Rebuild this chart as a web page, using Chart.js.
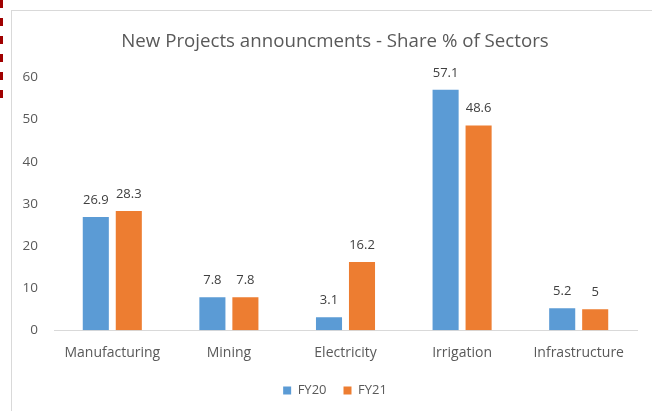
<!DOCTYPE html>
<html>
<head>
<meta charset="utf-8">
<script src="https://cdn.jsdelivr.net/npm/chart.js@4"></script>
<style>
    html, body { margin: 0; padding: 0; background: #fff; }
    #wrap { position: relative; width: 652px; height: 411px; overflow: hidden; }
    #frame {
        position: absolute; left: 11px; top: 10px; width: 660px; height: 420px;
        border: 1px solid #d9d9d9; box-sizing: border-box;
    }
    #dash {
        position: absolute; left: 0; top: 0; width: 3px; height: 98px;
        background: repeating-linear-gradient(to bottom, #a00000 0 8px, transparent 8px 18px);
    }
    canvas { position: absolute; left: 0; top: 0; }
</style>
</head>
<body>
<div id="wrap">
    <div id="frame"></div>
    <div id="dash"></div>
    <canvas id="chart" width="652" height="411"></canvas>
</div>
<script>
const sectors = ["Manufacturing", "Mining", "Electricity", "Irrigation", "Infrastructure"];
const fy20 = [26.9, 7.8, 3.1, 57.1, 5.2];
const fy21 = [28.3, 7.8, 16.2, 48.6, 5];
const yTicks = [0, 10, 20, 30, 40, 50, 60];

const textColor = "#595959";
const fontFamily = "'Open Sans', 'Liberation Sans', sans-serif";

// value labels above each bar
const barLabels = {
    id: "barLabels",
    afterDatasetsDraw(chart) {
        const ctx = chart.ctx;
        ctx.save();
        ctx.font = "13px " + fontFamily;
        ctx.fillStyle = "#404040";
        ctx.textAlign = "center";
        ctx.textBaseline = "alphabetic";
        chart.data.datasets.forEach((ds, i) => {
            chart.getDatasetMeta(i).data.forEach((bar, j) => {
                ctx.fillText(String(ds.data[j]), bar.x, bar.y - 13);
            });
        });
        ctx.restore();
    }
};

new Chart(document.getElementById("chart"), {
    type: "bar",
    data: {
        labels: sectors,
        datasets: [
            { label: "FY20", data: fy20, backgroundColor: "#5b9bd5" },
            { label: "FY21", data: fy21, backgroundColor: "#ed7d31" }
        ]
    },
    options: {
        responsive: false,
        animation: false,
        layout: { padding: { left: 18, right: 0, top: 30, bottom: 4 } },
        datasets: { bar: { categoryPercentage: 0.566, barPercentage: 0.79 } },
        plugins: {
            title: {
                display: true,
                text: "New Projects announcments - Share % of Sectors",
                color: textColor,
                font: { family: fontFamily, size: 18.7, weight: "normal" },
                padding: { top: 0, bottom: 25 }
            },
            legend: {
                position: "bottom",
                labels: {
                    color: textColor,
                    font: { family: fontFamily, size: 13 },
                    boxWidth: 8,
                    boxHeight: 8,
                    padding: 17
                }
            },
            tooltip: { enabled: false }
        },
        scales: {
            x: {
                grid: { display: false },
                border: { color: "#d9d9d9" },
                ticks: { color: textColor, font: { family: fontFamily, size: 14 }, padding: 6 }
            },
            y: {
                min: 0,
                max: 60,
                afterBuildTicks(scale) { scale.ticks = yTicks.map(v => ({ value: v })); },
                afterFit(scale) { scale.width = 36; },
                grid: { display: false },
                border: { display: false },
                ticks: { color: textColor, font: { family: fontFamily, size: 13.5 }, padding: 8 }
            },
            // empty right-hand axis, only keeps the plot's right margin
            yRight: {
                position: "right",
                afterFit(scale) { scale.width = 15; },
                grid: { display: false },
                border: { display: false },
                ticks: { display: false }
            }
        }
    },
    plugins: [barLabels]
});
</script>
</body>
</html>
